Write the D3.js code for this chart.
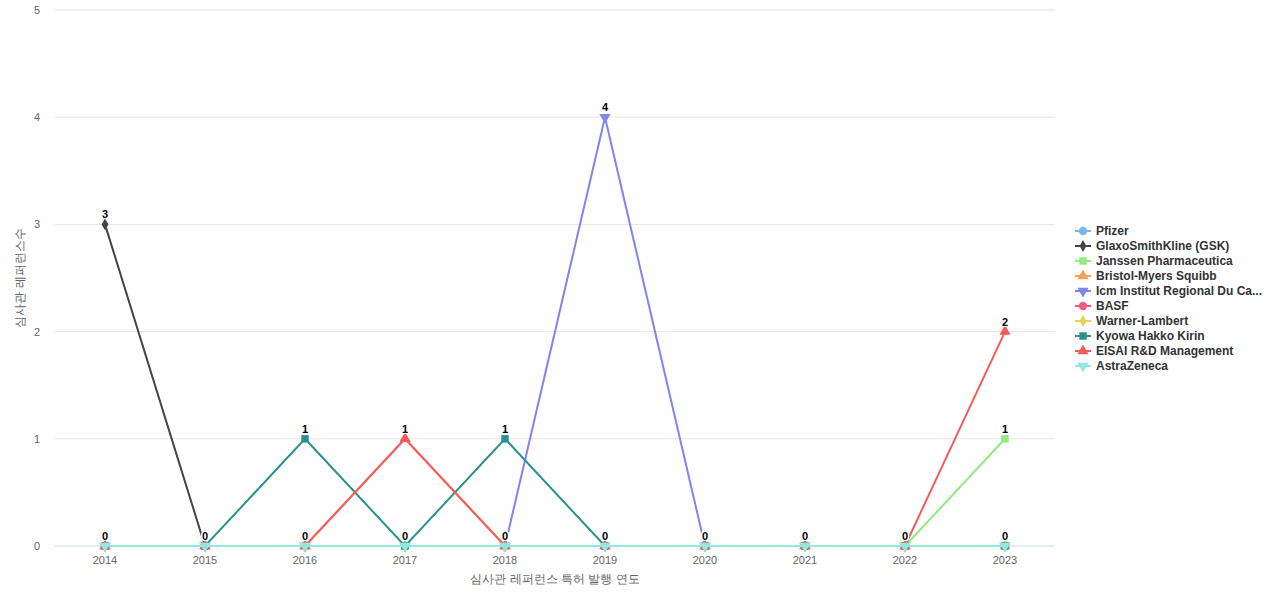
<!DOCTYPE html>
<html><head><meta charset="utf-8">
<script src="https://cdn.jsdelivr.net/npm/d3@7"></script>
<style>body{margin:0;background:#fff;font-family:"Liberation Sans",Arial,sans-serif}</style>
</head><body><svg id="c" width="1280" height="600"></svg>
<script>
const years = [2014,2015,2016,2017,2018,2019,2020,2021,2022,2023];
const seriesNames = ["Pfizer","GlaxoSmithKline (GSK)","Janssen Pharmaceutica","Bristol-Myers Squibb","Icm Institut Regional Du Ca...","BASF","Warner-Lambert","Kyowa Hakko Kirin","EISAI R&D Management","AstraZeneca"];
const pfizer    = [0,0,0,0,0,0,0,0,0,0];
const gsk       = [3,0,0,0,0,0,0,0,0,0];
const janssen   = [0,0,0,0,0,0,0,0,0,1];
const bristol   = [0,0,0,1,0,0,0,0,0,0];
const icm       = [0,0,0,0,0,4,0,0,0,0];
const basf      = [0,0,0,0,0,0,0,0,0,0];
const warner    = [0,0,0,0,0,0,0,0,0,0];
const kyowa     = [0,0,1,0,1,0,0,0,0,0];
const eisai     = [0,0,0,1,0,0,0,0,0,2];
const astra     = [0,0,0,0,0,0,0,0,0,0];
const seriesValues = [pfizer,gsk,janssen,bristol,icm,basf,warner,kyowa,eisai,astra];
const colors = ["#7cb5ec","#434348","#90ed7d","#f7a35c","#8085e9","#f15c80","#e4d354","#2b908f","#f45b5b","#91e8e1"];
const symbols = [d3.symbolCircle,d3.symbolDiamond,d3.symbolSquare,d3.symbolTriangle,"down",d3.symbolCircle,d3.symbolDiamond,d3.symbolSquare,d3.symbolTriangle,"down"];
const yTicks = [0,1,2,3,4,5];

const svg = d3.select("#c");
const x = d3.scalePoint().domain(years).range([105,1005]);
const y = d3.scaleLinear().domain([0,5]).range([546,10]);

svg.append("g").selectAll("line").data(yTicks).join("line")
  .attr("x1",55).attr("x2",1055).attr("y1",d=>y(d)).attr("y2",d=>y(d))
  .attr("stroke",d=>d===0?"#ccd6eb":"#e6e6e6");
svg.append("g").selectAll("text").data(yTicks).join("text")
  .attr("x",40).attr("y",d=>y(d)+4).attr("text-anchor","end")
  .attr("font-size",11).attr("fill","#666").text(d=>d);
svg.append("g").selectAll("text").data(years).join("text")
  .attr("x",d=>x(d)).attr("y",564).attr("text-anchor","middle")
  .attr("font-size",11).attr("fill","#666").text(d=>d);
svg.append("text").attr("x",555).attr("y",583).attr("text-anchor","middle")
  .attr("font-size",12).attr("fill","#666").text("심사관 레퍼런스 특허 발행 연도");
svg.append("text").attr("transform","translate(24,278) rotate(-90)").attr("text-anchor","middle")
  .attr("font-size",12).attr("fill","#666").text("심사관 레퍼런스수");

function sym(i,size){
  const s = symbols[i];
  if(s==="down") return d3.symbol(d3.symbolTriangle,size)();
  return d3.symbol(s,size)();
}
const line = d3.line().x((d,i)=>x(years[i])).y(d=>y(d));
seriesValues.forEach((vals,si)=>{
  const g = svg.append("g");
  g.append("path").datum(vals).attr("d",line).attr("fill","none")
    .attr("stroke",colors[si]).attr("stroke-width",2);
  g.selectAll("path.m").data(vals).join("path").attr("class","m")
    .attr("transform",(d,i)=>`translate(${x(years[i])},${y(d)})`+(symbols[si]==="down"?" rotate(180)":""))
    .attr("d",sym(si,symbols[si]===d3.symbolDiamond?40:55)).attr("fill",colors[si]);
});
// labels
seriesValues.forEach((vals,si)=>{
  svg.append("g").selectAll("text").data(vals).join("text")
    .attr("x",(d,i)=>x(years[i])).attr("y",d=>y(d)-6).attr("text-anchor","middle")
    .attr("font-size",11).attr("font-weight","bold").attr("fill","#000")
    .attr("stroke","#fff").attr("stroke-width",2).attr("paint-order","stroke")
    .text(d=>d);
});
// legend
const lg = svg.append("g");
seriesNames.forEach((n,i)=>{
  const yy = 231 + i*15;
  lg.append("line").attr("x1",1075).attr("x2",1091).attr("y1",yy).attr("y2",yy).attr("stroke",colors[i]).attr("stroke-width",2);
  lg.append("path").attr("transform",`translate(1083,${yy})`+(symbols[i]==="down"?" rotate(180)":"")).attr("d",sym(i,symbols[i]===d3.symbolDiamond?40:55)).attr("fill",colors[i]);
  lg.append("text").attr("x",1096).attr("y",yy+4).attr("font-size",12).attr("font-weight","bold").attr("fill","#333").text(n);
});
</script></body></html>
